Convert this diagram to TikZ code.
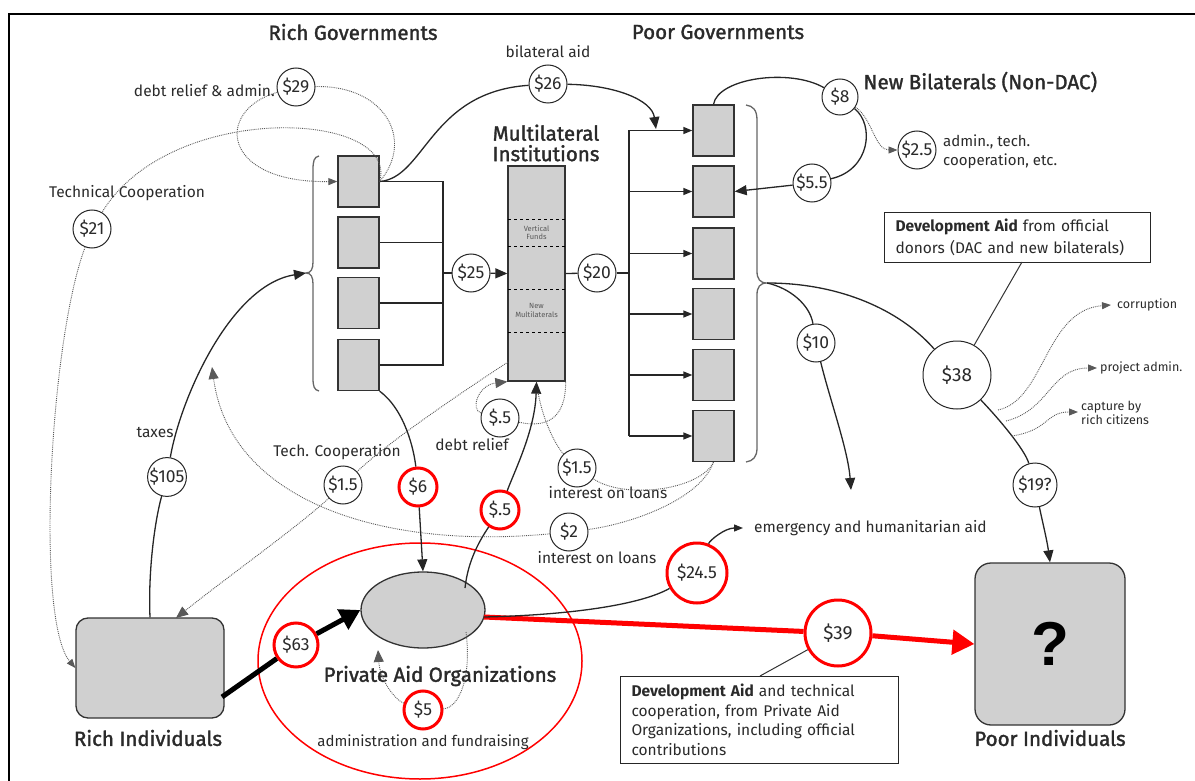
\documentclass[tikz,border=0pt]{standalone}
\usepackage{fontspec}
\setmainfont{Fira Sans}
\newfontfamily\semib[FakeBold=1.6]{Fira Sans}
\newfontfamily\arialf{Liberation Sans}
\usetikzlibrary{arrows.meta,shapes.geometric,calc}
\definecolor{boxgray}{HTML}{D0D0D0}
\definecolor{ink}{HTML}{2A2A2A}
\begin{document}
\begin{tikzpicture}[x=1pt,y=-1pt, font=\fontsize{15}{17}\selectfont, text=ink]
\tikzset{
  gbox/.style={draw=black!80, fill=boxgray, line width=1.3pt, minimum width=41pt, minimum height=51pt, inner sep=0pt},
  money/.style={circle, draw=black!85, fill=white, line width=1pt, inner sep=0pt, minimum size=38pt, font=\fontsize{17.5}{18}\selectfont},
  redmoney/.style={money, draw=red, line width=3pt},
  lbl/.style={font=\fontsize{15.5}{17}\selectfont, text=ink, inner sep=1pt},
  small/.style={font=\fontsize{12.5}{14.5}\selectfont, text=ink, inner sep=1pt, align=left},
  ttl/.style={font=\semib\fontsize{20.5}{20.5}\selectfont, text=ink, align=center},
  flow/.style={line width=1.3pt, draw=black!85},
  dflow/.style={densely dotted, line width=0.9pt, draw=black!65},
  brace/.style={line width=1.3pt, draw=black!60},
  arr/.style={-{Triangle[length=12pt,width=10pt]}},
  sarr/.style={-{Triangle[length=9pt,width=7pt]}},
  notebox/.style={draw=black!85, line width=1pt, fill=white, align=left, inner xsep=11pt, inner ysep=4pt}
}
\useasboundingbox (0,0) rectangle (1195,781);
\draw[line width=2pt] (9,781) -- (9,14) -- (1195,14);

% highlight ellipse
\draw[red, line width=1.5pt] (420,661) ellipse [x radius=162, y radius=118];

% titles
\node[ttl] (tRG) at (353,32) {Rich Governments};
\node[ttl] (tPG) at (718,32) {Poor Governments};
\node[ttl, anchor=west] (tNB) at (860,82) {New Bilaterals (Non-DAC)};
\node[ttl] (tMI) at (546,143) {Multilateral\\Institutions};

% rich government boxes
\foreach \i/\y in {1/181.5,2/242.5,3/303,4/365} \node[gbox] (rb\i) at (358.5,\y) {};
% poor government boxes
\foreach \i/\y in {1/130.5,2/191.5,3/253.5,4/314,5/375,6/436} \node[gbox] (pb\i) at (713.5,\y) {};

% multilateral box
\node[gbox, minimum width=57pt, minimum height=215pt] (mb) at (536.5,273.5) {};
\draw[dashed, line width=0.9pt] (508,219) -- (565,219);
\draw[dashed, line width=0.9pt] (508,246) -- (565,246);
\draw[dashed, line width=0.9pt] (508,289) -- (565,289);
\draw[dashed, line width=0.9pt] (508,332) -- (565,332);
\node[font=\fontsize{7.5}{8.5}\selectfont, align=center, text=black!65] (vf) at (536.5,232.5) {Vertical\\Funds};
\node[font=\fontsize{7.5}{8.5}\selectfont, align=center, text=black!65] (nm) at (536.5,310.5) {New\\Multilaterals};

% braces
\draw[brace] (319,156) .. controls (314,157) and (313,161) .. (313,170) -- (313,262) .. controls (313,269) and (311,273) .. (306,273) .. controls (311,273) and (313,277) .. (313,284) -- (313,378) .. controls (313,386) and (314,390) .. (319,391);
\coordinate (rbt) at (306,273);
\draw[brace] (746,105) .. controls (753,106) and (757,110) .. (757,120) -- (757,271) .. controls (757,279) and (760,283) .. (767,283) .. controls (760,283) and (757,287) .. (757,295) -- (757,448) .. controls (757,457) and (753,461) .. (746,462);
\coordinate (pbt) at (767,283);

% individuals and private aid
\node[gbox, rounded corners=12pt, minimum width=148pt, minimum height=100pt] (ri) at (150,668) {};
\node[ttl] (riL) at (148,738) {Rich Individuals};
\node[gbox, rounded corners=16pt, minimum width=150pt, minimum height=162pt, font=\arialf\bfseries\fontsize{62}{62}\selectfont, text=black] (pi) at (1050,644) {?};
\node[ttl] (piL) at (1050,738) {Poor Individuals};
\node[ellipse, draw=black!80, fill=boxgray, line width=1.3pt, minimum width=124pt, minimum height=76pt] (pa) at (423,610) {};
\node[ttl] (paL) at (440,676) {Private Aid Organizations};

% money circles
\node[money] (c29) at (296,87) {\$29};
\node[money] (c26) at (548,84) {\$26};
\node[money] (c21) at (92,229) {\$21};
\node[money, minimum size=36pt] (c8) at (840,97) {\$8};
\node[money] (c25b) at (917,150) {\$2.5};
\node[money] (c55) at (812,183) {\$5.5};
\node[money] (c25) at (471,273) {\$25};
\node[money] (c20) at (597,273) {\$20};
\node[money] (c10) at (816,343) {\$10};
\node[money, minimum size=68pt, font=\fontsize{19}{19}\selectfont] (c38) at (957,375) {\$38};
\node[money, minimum size=44pt] (c19) at (1035,485) {\$19?};
\node[money] (c105) at (167,477) {\$105};
\node[money] (c15a) at (343,485) {\$1.5};
\node[money] (c05a) at (500,418) {\$.5};
\node[money] (c15b) at (577,468) {\$1.5};
\node[money] (c2) at (569,532) {\$2};
\node[redmoney] (c6) at (418,487) {\$6};
\node[redmoney] (c05b) at (500,510) {\$.5};
\node[redmoney, minimum size=44pt] (c63) at (296,645) {\$63};
\node[redmoney, minimum size=60pt] (c245) at (697,573) {\$24.5};
\node[redmoney, minimum size=66pt, font=\fontsize{19}{19}\selectfont] (c39) at (838,633) {\$39};
\node[redmoney] (c5) at (423,710) {\$5};

% labels
\node[lbl, anchor=east] (l29) at (276,91) {debt relief \& admin.};
\node[lbl] (l26) at (548,52) {bilateral aid};
\node[lbl] (l21) at (127,193) {Technical Cooperation};
\node[lbl, anchor=west, align=left, font=\fontsize{15}{19}\selectfont] (l25b) at (942,152) {admin., tech.\\cooperation, etc.};
\node[lbl] (ltax) at (155,432) {taxes};
\node[lbl] (ltc) at (337,452) {Tech. Cooperation};
\node[lbl] (ldr) at (472,445) {debt relief};
\node[lbl] (lil1) at (608,493) {interest on loans};
\node[lbl] (lil2) at (597,558) {interest on loans};
\node[lbl, anchor=west] (lem) at (753,528) {emergency and humanitarian aid};
\node[lbl, font=\fontsize{15}{17}\selectfont] (lad) at (423,742) {administration and fundraising};
\node[small, anchor=west] (lcor) at (1116,305) {corruption};
\node[small, anchor=west] (lpa) at (1099,368) {project admin.};
\node[small, anchor=west] (lcap) at (1080,413) {capture by\\rich citizens};

% notes
\node[notebox, anchor=north west, text width=244pt, minimum height=50pt, font=\fontsize{15.5}{22}\selectfont] (n1) at (884,212) {\textbf{Development Aid} from official\\donors (DAC and new bilaterals)};
\node[notebox, anchor=north west, text width=256pt, minimum height=87pt, font=\fontsize{15.5}{19.5}\selectfont] (n2) at (620,676) {\textbf{Development Aid} and technical\\cooperation, from Private Aid\\Organizations, including official\\contributions};

% rich gov connectors
\coordinate (rj) at (443,273);
\draw[flow] (rb1.east) -| (rj) |- (rb4.east);
\draw[flow] (rb2.east) -- (rb2.east -| rj);
\draw[flow] (rb3.east) -- (rb3.east -| rj);
\draw[flow] (rj) -- (c25);
\draw[flow, arr] (c25) -- (mb.west);
\draw[flow] (mb.east) -- (c20);
\coordinate (pj) at (629,273);
\draw[flow] (c20) -- (pj);
\draw[flow] (pb1.west -| pj) -- (pb6.west -| pj);
\foreach \i in {1,...,6} \draw[flow, sarr] (pb\i.west -| pj) -- (pb\i.west);

% bilateral aid
\coordinate (a26) at (656,129);
\draw[flow] (rb1.east) .. controls (425,178) and (430,92) .. (c26);
\draw[flow, arr] (c26) .. controls (615,85) and (652,100) .. (a26);

% debt relief & admin, technical cooperation (dotted)
\draw[dflow] (c29) .. controls (385,85) and (415,140) .. (rb1.east);
\draw[dflow, sarr] (c29) .. controls (215,110) and (220,183) .. (rb1.west);
\draw[dflow] (rb1.east) .. controls (400,110) and (170,100) .. (c21);
\draw[dflow, sarr] (c21) .. controls (50,340) and (35,620) .. (ri.west);

% taxes
\draw[flow] (ri.north) .. controls (148,570) and (155,520) .. (c105);
\draw[flow, arr] (c105) .. controls (180,400) and (230,285) .. (rbt);

% tech cooperation from multilaterals
\coordinate (mtc) at (508,362);
\coordinate (rit) at (176,618);
\draw[dflow] (mtc) .. controls (450,400) and (385,445) .. (c15a);
\draw[dflow, arr] (c15a) .. controls (300,525) and (230,575) .. (rit);

% interest on loans
\coordinate (rtx) at (212,367);
\draw[dflow] (pb6.south) .. controls (700,500) and (630,524) .. (c2);
\draw[dflow, arr] (c2) .. controls (380,550) and (230,500) .. (rtx);
\draw[dflow] (pb6.south) .. controls (700,490) and (625,500) .. (c15b);
\draw[dflow] (c15b) .. controls (555,445) and (540,415) .. (mb.south);

% debt relief to multilaterals
\draw[dflow] (mb.south east) .. controls (566,420) and (545,428) .. (c05a);
\draw[dflow, arr] (c05a) .. controls (470,410) and (478,385) .. (mb.south west);

% private aid flows
\coordinate (pat) at (465,588);
\draw[flow] (pat) .. controls (468,560) and (480,540) .. (c05b);
\draw[flow, arr] (c05b) .. controls (515,470) and (535,430) .. (mb.south);
\draw[flow] (rb4.south east) .. controls (405,410) and (414,450) .. (c6);
\draw[flow, arr] (c6) -- (pa.north);

% $63
\coordinate (rie) at (222,697);
\draw[line width=5pt] (rie) -- (c63);
\draw[line width=5pt, -{Triangle[length=20pt,width=22pt]}] (c63) -- (pa.west);

% red $39
\coordinate (pae) at (484,617);
\draw[red, line width=5pt] (pae) -- (c39);
\draw[red, line width=5pt, -{Triangle[length=22pt,width=24pt]}] (c39) -- (pi.west);
\draw[line width=1pt, draw=black!80] (760,676) -- (c39);

% $24.5
\coordinate (emg) at (743,528);
\draw[flow] (pae) .. controls (570,615) and (640,605) .. (c245);
\draw[flow, sarr] (c245) .. controls (710,540) and (725,528) .. (emg);

% $5 admin loop
\coordinate (pab) at (466,632);
\coordinate (pal) at (378,650);
\draw[dflow] (pab) .. controls (472,680) and (458,708) .. (c5);
\draw[dflow, arr] (c5) .. controls (395,700) and (380,680) .. (pal);

% new bilaterals
\draw[flow] (pb1.north) .. controls (718,78) and (790,68) .. (c8);
\draw[flow] (c8) .. controls (875,125) and (870,170) .. (c55);
\draw[flow, arr] (c55) -- (pb2.east);
\draw[dflow, sarr] (c8) .. controls (872,118) and (875,150) .. (c25b);

% poor gov outflows
\coordinate (emd) at (851,490);
\draw[flow] (pbt) .. controls (790,288) and (810,305) .. (c10);
\draw[flow, arr] (c10) .. controls (830,400) and (848,450) .. (emd);
\draw[flow] (pbt) .. controls (840,283) and (900,310) .. (c38);
\draw[flow] (c38) .. controls (1000,420) and (1025,450) .. (c19);
\draw[flow, arr] (c19) .. controls (1042,520) and (1047,540) .. (pi.north);
\coordinate (n1b) at (1022,262);
\draw[line width=1pt, draw=black!80] (n1b) -- (c38);

% leakage from $38
\coordinate (k1) at (998,410);
\coordinate (k2) at (1006,421);
\coordinate (k3) at (1012,436);
\coordinate (kc) at (1111,305);
\coordinate (kp) at (1097,368);
\coordinate (kr) at (1078,412);
\draw[dflow, sarr] (k1) .. controls (1045,400) and (1045,310) .. (kc);
\draw[dflow, sarr] (k2) .. controls (1050,410) and (1050,368) .. (kp);
\draw[dflow, sarr] (k3) .. controls (1050,430) and (1045,412) .. (kr);
\end{tikzpicture}
\end{document}
